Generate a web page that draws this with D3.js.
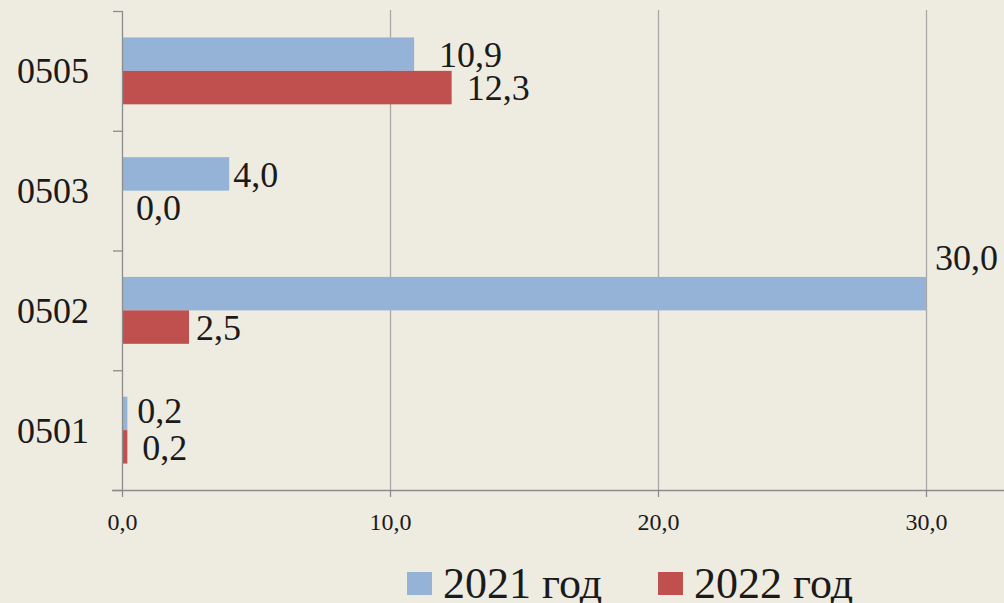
<!DOCTYPE html>
<html>
<head>
<meta charset="utf-8">
<script src="https://cdn.jsdelivr.net/npm/d3@7"></script>
<style>
  html, body { margin: 0; padding: 0; background: #EEEBE1; }
  svg { display: block; }
  text { font-family: "Liberation Serif", "DejaVu Serif", serif; fill: #1a1a1a; }
</style>
</head>
<body>
<script>
// categories top to bottom, as on the chart
var categories = ["0505", "0503", "0502", "0501"];
var seriesNames = ["2021 год", "2022 год"];
var values2021 = [10.9, 4.0, 30.0, 0.2];
var values2022 = [12.3, 0.0, 2.5, 0.2];
var xTicks = [0, 10, 20, 30];
var colors = ["#95B3D7", "#C0504D"];

// label nudges (dx, dy) per series, per category - the original labels were hand placed
var labelShift2021 = [[25, 0], [4, 0], [9, -36], [10, -3]];
var labelShift2022 = [[15, 0], [14, 0], [7, 0], [15, 1]];

var svgWidth = 1004, svgHeight = 603;
var plotLeft = 122, plotTop = 11, plotBottom = 490;

var svg = d3.select("body").append("svg")
    .attr("width", svgWidth)
    .attr("height", svgHeight);

var x = d3.scaleLinear().domain([0, 35]).range([plotLeft, plotLeft + 35 * 26.8]);
var y = d3.scaleBand().domain(categories).range([plotTop, plotBottom]);
var inner = d3.scaleBand().domain(seriesNames).range([0, y.bandwidth()]).paddingOuter(0.79);

var fmt = function(v) { return v.toFixed(1).replace(".", ","); };

var flat = [];
categories.forEach(function(c, i) {
  flat.push({ cat: c, s: seriesNames[0], v: values2021[i], shift: labelShift2021[i], color: colors[0] });
  flat.push({ cat: c, s: seriesNames[1], v: values2022[i], shift: labelShift2022[i], color: colors[1] });
});

// vertical gridlines
svg.append("g")
  .selectAll("line")
  .data(xTicks.filter(function(d) { return d > 0; }))
  .enter().append("line")
  .attr("x1", function(d) { return x(d) + 0.5; })
  .attr("x2", function(d) { return x(d) + 0.5; })
  .attr("y1", plotTop - 1)
  .attr("y2", plotBottom)
  .attr("stroke", "#A8A8A8")
  .attr("stroke-width", 1.3);

// bars
svg.append("g")
  .selectAll("rect")
  .data(flat)
  .enter().append("rect")
  .attr("x", x(0))
  .attr("y", function(d) { return y(d.cat) + inner(d.s); })
  .attr("width", function(d) { return x(d.v) - x(0); })
  .attr("height", inner.bandwidth())
  .attr("fill", function(d) { return d.color; });

// bottom axis
var xAxis = svg.append("g")
  .attr("transform", "translate(0," + plotBottom + ")")
  .call(d3.axisBottom(x).tickValues(xTicks).tickSize(7).tickPadding(16).tickFormat(fmt));
xAxis.select(".domain").remove();
xAxis.append("line")
  .attr("x1", plotLeft - 10).attr("x2", svgWidth)
  .attr("y1", 0.5).attr("y2", 0.5)
  .attr("stroke", "#8C8C8C").attr("stroke-width", 1.3);
xAxis.selectAll(".tick line").attr("stroke", "#8C8C8C").attr("stroke-width", 1.3);
xAxis.selectAll(".tick text")
  .style("font-family", "Liberation Serif")
  .style("font-size", "24px")
  .attr("fill", "#1a1a1a");

// left axis: ticks at category boundaries
var yAxis = svg.append("g")
  .attr("transform", "translate(" + plotLeft + ",0)");
yAxis.append("line")
  .attr("x1", 0.5).attr("x2", 0.5)
  .attr("y1", plotTop).attr("y2", plotBottom)
  .attr("stroke", "#8C8C8C").attr("stroke-width", 1.3);
yAxis.selectAll(".bound")
  .data(categories.map(function(c) { return y(c); }).concat([plotBottom]))
  .enter().append("line")
  .attr("x1", -9).attr("x2", 0.5)
  .attr("y1", function(d) { return d + 0.5; })
  .attr("y2", function(d) { return d + 0.5; })
  .attr("stroke", "#8C8C8C").attr("stroke-width", 1.3);

// category labels
svg.append("g")
  .selectAll("text")
  .data(categories)
  .enter().append("text")
  .attr("x", 89)
  .attr("y", function(d) { return y(d) + y.bandwidth() / 2; })
  .attr("dy", "0.35em")
  .attr("text-anchor", "end")
  .style("font-size", "36px")
  .text(function(d) { return d; });

// value labels
svg.append("g")
  .selectAll("text")
  .data(flat)
  .enter().append("text")
  .attr("x", function(d) { return x(d.v) + d.shift[0]; })
  .attr("y", function(d) { return y(d.cat) + inner(d.s) + inner.bandwidth() / 2 + d.shift[1]; })
  .attr("dy", "0.35em")
  .style("font-size", "36px")
  .text(function(d) { return fmt(d.v); });

// legend
var legendX = [407, 658];
var legend = svg.append("g")
  .selectAll("g")
  .data(seriesNames)
  .enter().append("g")
  .attr("transform", function(d, i) { return "translate(" + legendX[i] + ",0)"; });
legend.append("rect")
  .attr("x", 0).attr("y", 572)
  .attr("width", 25).attr("height", 23)
  .attr("fill", function(d, i) { return colors[i]; });
legend.append("text")
  .attr("x", 36).attr("y", 598)
  .style("font-size", "44px")
  .text(function(d) { return d; });
</script>
</body>
</html>
